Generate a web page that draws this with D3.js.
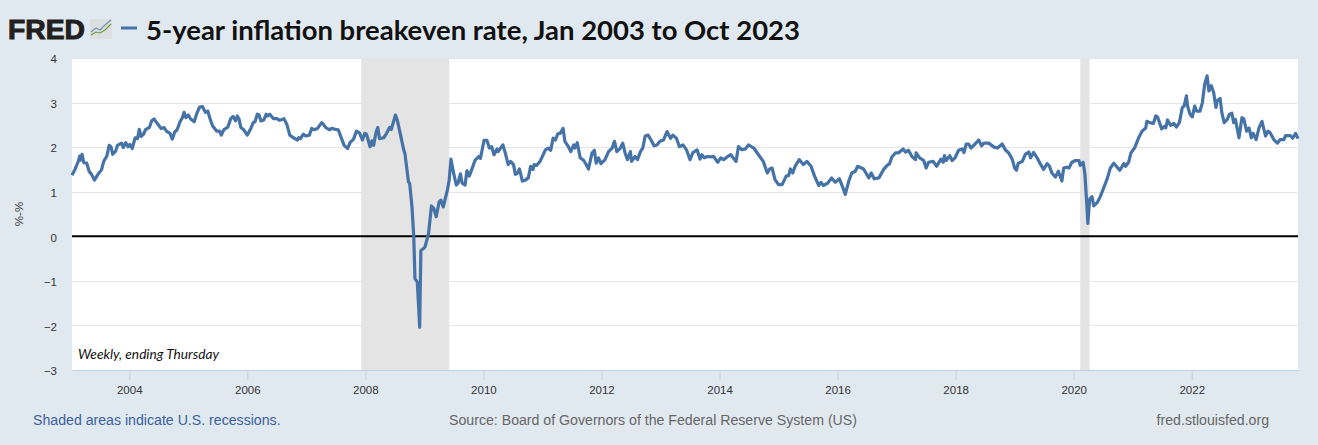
<!DOCTYPE html>
<html>
<head>
<meta charset="utf-8">
<script src="https://cdn.jsdelivr.net/npm/d3@7"></script>
<style>
  html, body { margin: 0; padding: 0; background: #e1e9f0; }
  svg { display: block; }
  .tick text { font-family: "Liberation Sans", Arial, sans-serif; font-size: 11.5px; fill: #333; }
</style>
</head>
<body>
<div id="chart"></div>
<script>
// values, year as decimal
var years = [
  2003.03,2003.08,2003.14,2003.16,2003.18,2003.20,2003.23,2003.28,2003.32,2003.36,2003.41,2003.47,2003.53,2003.57,2003.62,2003.66,2003.69,2003.72,2003.77,2003.80,
  2003.87,2003.90,2003.94,2003.98,2004.01,2004.05,2004.10,2004.14,2004.17,2004.20,2004.24,2004.28,2004.34,2004.38,2004.42,2004.47,2004.54,2004.59,2004.63,2004.69,
  2004.73,2004.77,2004.81,2004.86,2004.90,2004.93,2004.96,2005.00,2005.04,2005.10,2005.14,2005.19,2005.24,2005.29,2005.33,2005.37,2005.41,2005.48,2005.53,2005.56,
  2005.60,2005.67,2005.72,2005.76,2005.80,2005.83,2005.86,2005.89,2005.94,2006.00,2006.06,2006.10,2006.13,2006.17,2006.20,2006.23,2006.28,2006.32,2006.34,2006.38,
  2006.44,2006.50,2006.55,2006.62,2006.67,2006.72,2006.78,2006.85,2006.87,2006.90,2006.95,2006.99,2007.05,2007.09,2007.13,2007.19,2007.26,2007.29,2007.33,2007.39,
  2007.43,2007.49,2007.54,2007.60,2007.64,2007.70,2007.74,2007.80,2007.85,2007.90,2007.95,2007.99,2008.02,2008.08,2008.11,2008.14,2008.18,2008.21,2008.24,2008.31,
  2008.36,2008.41,2008.44,2008.49,2008.51,2008.54,2008.59,2008.65,2008.67,2008.73,2008.75,2008.79,2008.82,2008.84,2008.88,2008.92,2008.94,2008.98,2009.01,2009.07,
  2009.12,2009.16,2009.20,2009.25,2009.28,2009.32,2009.39,2009.42,2009.45,2009.49,2009.54,2009.57,2009.61,2009.64,2009.69,2009.72,2009.76,2009.80,2009.86,2009.92,
  2009.95,2010.01,2010.06,2010.10,2010.14,2010.18,2010.23,2010.25,2010.33,2010.37,2010.42,2010.46,2010.51,2010.54,2010.58,2010.61,2010.66,2010.71,2010.76,2010.80,
  2010.84,2010.86,2010.90,2010.96,2011.05,2011.10,2011.14,2011.18,2011.22,2011.26,2011.30,2011.35,2011.38,2011.44,2011.48,2011.53,2011.55,2011.59,2011.64,2011.70,
  2011.74,2011.78,2011.84,2011.88,2011.91,2011.95,2011.99,2012.06,2012.12,2012.18,2012.22,2012.26,2012.31,2012.36,2012.40,2012.44,2012.49,2012.51,2012.57,2012.61,
  2012.66,2012.70,2012.74,2012.79,2012.84,2012.89,2012.94,2012.99,2013.05,2013.11,2013.17,2013.21,2013.27,2013.32,2013.38,2013.44,2013.50,2013.55,2013.62,2013.67,
  2013.70,2013.74,2013.79,2013.84,2013.90,2013.97,2014.02,2014.07,2014.13,2014.19,2014.28,2014.32,2014.38,2014.44,2014.49,2014.58,2014.66,2014.74,2014.81,2014.85,
  2014.89,2014.94,2015.00,2015.06,2015.13,2015.17,2015.20,2015.24,2015.28,2015.35,2015.42,2015.48,2015.55,2015.61,2015.68,2015.72,2015.76,2015.83,2015.90,2015.96,
  2016.03,2016.09,2016.13,2016.19,2016.24,2016.30,2016.34,2016.44,2016.53,2016.57,2016.62,2016.70,2016.78,2016.84,2016.88,2016.92,2016.98,2017.03,2017.11,2017.15,
  2017.20,2017.26,2017.32,2017.33,2017.39,2017.46,2017.50,2017.54,2017.62,2017.68,2017.75,2017.79,2017.81,2017.84,2017.90,2017.94,2017.99,2018.05,2018.11,2018.14,
  2018.18,2018.22,2018.26,2018.33,2018.39,2018.44,2018.48,2018.56,2018.65,2018.71,2018.79,2018.84,2018.90,2018.96,2019.00,2019.03,2019.06,2019.13,2019.18,2019.24,
  2019.27,2019.32,2019.38,2019.44,2019.49,2019.55,2019.59,2019.63,2019.69,2019.74,2019.80,2019.83,2019.88,2019.92,2019.97,2020.03,2020.09,2020.11,2020.16,2020.19,
  2020.22,2020.24,2020.27,2020.31,2020.34,2020.40,2020.45,2020.51,2020.57,2020.62,2020.68,2020.78,2020.85,2020.88,2020.93,2020.97,2021.03,2021.10,2021.16,2021.22,
  2021.24,2021.29,2021.35,2021.39,2021.42,2021.49,2021.54,2021.56,2021.59,2021.64,2021.70,2021.74,2021.79,2021.84,2021.87,2021.91,2021.93,2021.97,2022.01,2022.05,
  2022.08,2022.14,2022.18,2022.22,2022.26,2022.29,2022.33,2022.37,2022.41,2022.43,2022.48,2022.51,2022.55,2022.60,2022.64,2022.68,2022.71,2022.74,2022.80,2022.85,
  2022.88,2022.93,2022.97,2023.01,2023.04,2023.09,2023.14,2023.19,2023.25,2023.29,2023.33,2023.39,2023.45,2023.50,2023.56,2023.59,2023.67,2023.71,2023.76,2023.80
];
var rates = [
  1.37,1.50,1.69,1.80,1.71,1.84,1.65,1.64,1.46,1.39,1.26,1.39,1.49,1.69,1.80,2.04,2.01,1.84,1.91,2.04,
  2.09,1.99,2.10,2.01,2.06,1.97,2.21,2.19,2.40,2.24,2.29,2.40,2.44,2.59,2.63,2.54,2.42,2.44,2.36,2.31,
  2.18,2.34,2.39,2.57,2.66,2.78,2.66,2.72,2.63,2.57,2.74,2.90,2.91,2.78,2.81,2.63,2.48,2.36,2.36,2.27,
  2.39,2.45,2.64,2.69,2.59,2.70,2.63,2.44,2.39,2.27,2.42,2.55,2.57,2.74,2.72,2.59,2.61,2.74,2.70,2.74,
  2.64,2.64,2.60,2.64,2.51,2.27,2.21,2.16,2.21,2.19,2.29,2.25,2.27,2.42,2.39,2.42,2.55,2.51,2.44,2.39,
  2.42,2.40,2.39,2.18,2.04,1.97,2.10,2.18,2.36,2.32,2.16,2.31,2.29,2.01,2.14,2.04,2.33,2.44,2.19,2.21,
  2.31,2.44,2.40,2.63,2.72,2.61,2.31,1.94,1.86,1.22,1.19,0.66,-0.02,-0.95,-1.03,-2.04,-0.32,-0.28,-0.24,0.06,
  0.68,0.62,0.44,0.77,0.81,0.66,1.04,1.26,1.73,1.45,1.15,1.19,1.40,1.19,1.15,1.47,1.35,1.49,1.71,1.79,
  1.75,2.15,2.15,1.98,2.01,1.83,1.96,1.90,2.05,1.87,1.61,1.68,1.61,1.39,1.42,1.51,1.24,1.26,1.31,1.57,
  1.50,1.61,1.59,1.68,1.94,1.98,1.93,2.20,2.16,2.30,2.31,2.42,2.13,2.01,1.90,2.05,1.98,2.10,1.76,1.70,
  1.61,1.51,1.87,1.93,1.64,1.76,1.63,1.72,1.90,1.98,2.13,1.90,1.96,2.09,1.87,1.72,1.90,1.68,1.79,1.72,
  1.90,1.98,2.25,2.27,2.16,2.03,2.05,2.13,2.16,2.35,2.20,2.27,2.20,2.01,2.05,1.94,1.72,1.88,1.94,1.73,
  1.83,1.76,1.79,1.78,1.79,1.66,1.76,1.72,1.78,1.83,1.68,2.01,1.94,1.96,2.05,1.98,1.83,1.68,1.42,1.51,
  1.53,1.27,1.16,1.16,1.35,1.36,1.51,1.42,1.57,1.72,1.61,1.68,1.57,1.35,1.14,1.21,1.14,1.19,1.31,1.21,
  1.29,1.09,0.94,1.24,1.42,1.46,1.57,1.51,1.31,1.42,1.29,1.31,1.50,1.59,1.63,1.78,1.87,1.87,1.96,1.89,
  1.93,1.79,1.72,1.87,1.76,1.70,1.53,1.66,1.68,1.57,1.73,1.66,1.81,1.70,1.81,1.70,1.76,1.93,1.96,1.88,
  2.07,2.07,1.98,2.07,2.16,2.03,2.09,2.09,2.00,1.98,2.07,1.94,1.87,1.72,1.53,1.48,1.64,1.68,1.84,1.89,
  1.76,1.88,1.76,1.61,1.50,1.63,1.57,1.42,1.33,1.46,1.24,1.53,1.55,1.53,1.66,1.70,1.70,1.59,1.66,1.39,
  0.76,0.29,0.83,0.89,0.68,0.76,0.89,1.09,1.30,1.53,1.64,1.48,1.63,1.57,1.66,1.87,1.98,2.21,2.36,2.43,
  2.58,2.55,2.53,2.70,2.68,2.41,2.47,2.43,2.61,2.49,2.53,2.45,2.55,2.89,2.92,3.15,2.92,2.74,2.68,2.92,
  2.81,2.81,3.00,3.42,3.60,3.26,3.38,3.23,2.89,3.04,3.09,2.77,2.55,2.62,2.74,2.76,2.55,2.62,2.21,2.66,
  2.64,2.36,2.43,2.21,2.31,2.17,2.43,2.58,2.25,2.36,2.32,2.17,2.09,2.17,2.17,2.26,2.26,2.20,2.31,2.19
];
var recessionStarts = [2007.93, 2020.11];
var recessionEnds = [2009.42, 2020.27];
var xTicks = [2004, 2006, 2008, 2010, 2012, 2014, 2016, 2018, 2020, 2022];
var yTicks = [-3, -2, -1, 0, 1, 2, 3, 4];

var width = 1318, height = 445,
    margin = {top: 58, right: 20, bottom: 75, left: 72},
    lineColor = "#4572a7", arial = '"Liberation Sans", Arial, sans-serif';

var svg = d3.select("#chart").append("svg")
  .attr("width", width).attr("height", height);
svg.append("rect").attr("width", width).attr("height", height).attr("fill", "#e1e9f0");

var xScale = d3.scaleLinear().domain([2003.03, 2023.80]).range([margin.left, width - margin.right]);
var yScale = d3.scaleLinear().domain([-3, 4]).range([height - margin.bottom, margin.top]);

// plot area
svg.append("rect")
  .attr("x", margin.left).attr("y", margin.top)
  .attr("width", width - margin.left - margin.right)
  .attr("height", height - margin.top - margin.bottom)
  .attr("fill", "#fff");

// grid lines
svg.append("g").selectAll("line")
  .data(yTicks.slice(1))
  .join("line")
  .attr("x1", margin.left).attr("x2", width - margin.right)
  .attr("y1", d => Math.round(yScale(d)) + 0.5).attr("y2", d => Math.round(yScale(d)) + 0.5)
  .attr("stroke", "#e6e6e6").attr("stroke-width", 1);

// recessions
svg.append("g").selectAll("rect")
  .data(recessionStarts)
  .join("rect")
  .attr("x", d => xScale(d))
  .attr("width", (d, i) => xScale(recessionEnds[i]) - xScale(d))
  .attr("y", margin.top).attr("height", height - margin.top - margin.bottom)
  .attr("fill", "#e4e4e4");

// zero line
svg.append("line")
  .attr("x1", margin.left).attr("x2", width - margin.right)
  .attr("y1", yScale(0)).attr("y2", yScale(0))
  .attr("stroke", "#000").attr("stroke-width", 2);

// series
var line = d3.line().x((d, i) => xScale(years[i])).y(d => yScale(d));
svg.append("path")
  .attr("d", line(rates))
  .attr("fill", "none").attr("stroke", lineColor)
  .attr("stroke-width", 3.2).attr("stroke-linejoin", "round");

// axes
var xAxis = svg.append("g")
  .attr("transform", "translate(0," + (height - margin.bottom) + ")")
  .call(d3.axisBottom(xScale).tickValues(xTicks).tickFormat(d3.format("d")).tickSize(10).tickSizeOuter(0).tickPadding(6));
xAxis.selectAll("line").attr("stroke", "#c0d0e0");
xAxis.select(".domain").attr("stroke", "#c0d0e0");

var yAxis = svg.append("g")
  .attr("transform", "translate(" + margin.left + ",0)")
  .call(d3.axisLeft(yScale).tickValues(yTicks).tickFormat(d => d < 0 ? "\u2212" + Math.abs(d) : d).tickSize(0).tickPadding(15));
yAxis.select(".domain").remove();
yAxis.selectAll("text").attr("dy", "0.42em");

svg.append("text")
  .attr("transform", "translate(23,214) rotate(-90)")
  .attr("text-anchor", "middle")
  .attr("font-family", arial).attr("font-size", 11.5).attr("fill", "#333")
  .text("%-%");

// note inside the plot
svg.append("text")
  .attr("x", 78).attr("y", 359)
  .attr("font-family", "Lato, sans-serif").attr("font-style", "italic").attr("font-size", 13)
  .attr("fill", "#111")
  .attr("textLength", 141).attr("lengthAdjust", "spacingAndGlyphs")
  .text("Weekly, ending Thursday");

// header: logo, little chart icon, legend dash, title
svg.append("text")
  .attr("x", 8).attr("y", 39)
  .attr("font-family", arial).attr("font-weight", 700).attr("font-size", 27.5)
  .attr("fill", "#231f20").attr("stroke", "#231f20").attr("stroke-width", 1)
  .attr("textLength", 77).attr("lengthAdjust", "spacingAndGlyphs")
  .text("FRED");

var icon = svg.append("g").attr("transform", "translate(90,19)");
icon.append("rect").attr("width", 22).attr("height", 20).attr("fill", "#dcdfe0").attr("rx", 1);
icon.append("path").attr("d", "M1,13L6,9L10,11L15,6L21,1").attr("fill", "none").attr("stroke", "#6f8fb3").attr("stroke-width", 1.1);
icon.append("path").attr("d", "M1,16L6,13L10,14L15,11L21,5").attr("fill", "none").attr("stroke", "#6f9a3a").attr("stroke-width", 1.1);

svg.append("line")
  .attr("x1", 121).attr("x2", 137).attr("y1", 28).attr("y2", 28)
  .attr("stroke", lineColor).attr("stroke-width", 3);

svg.append("text")
  .attr("x", 146).attr("y", 40)
  .attr("font-family", "Lato, sans-serif").attr("font-weight", 700).attr("font-size", 27)
  .attr("fill", "#111")
  .attr("textLength", 654).attr("lengthAdjust", "spacingAndGlyphs")
  .text("5-year inflation breakeven rate, Jan 2003 to Oct 2023");

// footer
svg.append("text")
  .attr("x", 33).attr("y", 425)
  .attr("font-family", arial).attr("font-size", 14.15).attr("fill", "#3a5f9e")
  .text("Shaded areas indicate U.S. recessions.");
svg.append("text")
  .attr("x", 653).attr("y", 425).attr("text-anchor", "middle")
  .attr("font-family", arial).attr("font-size", 14.15).attr("fill", "#666")
  .text("Source: Board of Governors of the Federal Reserve System (US)");
svg.append("text")
  .attr("x", 1269).attr("y", 425).attr("text-anchor", "end")
  .attr("font-family", arial).attr("font-size", 14.15).attr("fill", "#666")
  .text("fred.stlouisfed.org");
</script>
</body>
</html>
